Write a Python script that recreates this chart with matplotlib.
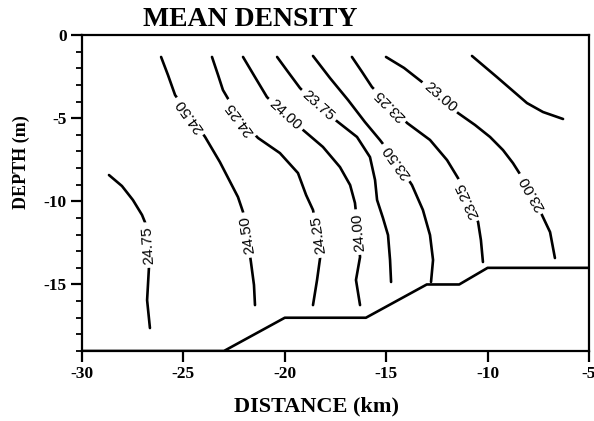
import numpy as np
import matplotlib.pyplot as plt

# isopycnal positions: distance (km), depth (m)
x_2475 = [-28.67, -28.03, -27.49, -27.04, -26.84, -26.75, -26.70, -26.79, -26.65]
z_2475 = [-8.42, -9.08, -9.92, -10.82, -11.42, -12.63, -14.01, -15.94, -17.62]

x_2450 = [-26.10, -25.76, -25.41, -24.67, -23.93, -23.20, -22.31, -22.06, -21.86, -21.67, -21.52, -21.47]
z_2450 = [-1.32, -2.41, -3.61, -4.87, -6.13, -7.64, -9.74, -10.64, -12.03, -13.65, -15.03, -16.24]

x_2425 = [-23.59, -23.29, -23.05, -22.21, -21.32, -20.24, -19.35, -18.95, -18.61, -18.36, -18.26, -18.41, -18.61]
z_2425 = [-1.32, -2.41, -3.31, -5.05, -6.19, -7.10, -8.30, -9.62, -10.52, -12.03, -13.41, -14.73, -16.24]

x_2400 = [-22.06, -21.47, -20.88, -19.99, -19.10, -18.12, -17.28, -16.78, -16.54, -16.39, -16.29, -16.49, -16.29]
z_2400 = [-1.32, -2.53, -3.73, -4.81, -5.71, -6.73, -7.94, -9.02, -10.10, -11.85, -13.35, -14.73, -16.24]

x_2375 = [-20.38, -19.84, -19.25, -18.36, -17.38, -16.44, -15.80, -15.55, -15.45, -15.16, -14.91, -14.81, -14.76]
z_2375 = [-1.32, -2.22, -3.19, -4.27, -5.23, -6.13, -7.34, -8.72, -9.92, -11.00, -12.03, -13.53, -14.85]

x_2350 = [-18.61, -17.77, -16.88, -16.05, -15.31, -14.47, -13.73, -13.19, -12.84, -12.69, -12.79]
z_2350 = [-1.26, -2.59, -3.91, -5.23, -6.31, -7.64, -9.02, -10.52, -12.03, -13.53, -14.85]

x_2325 = [-16.69, -16.19, -15.70, -14.81, -13.97, -12.84, -12.00, -11.46, -10.97, -10.47, -10.33, -10.23]
z_2325 = [-1.32, -2.22, -3.13, -4.21, -5.29, -6.31, -7.52, -8.60, -9.92, -11.24, -12.33, -13.65]

x_2300 = [-15.01, -14.12, -13.23, -12.35, -11.46, -10.62, -9.88, -9.24, -8.75, -7.81, -7.32, -6.92, -6.68]
z_2300 = [-1.32, -1.98, -2.83, -3.73, -4.69, -5.41, -6.13, -6.92, -7.70, -9.50, -10.82, -11.85, -13.41]

x_2275 = [-10.77, -9.54, -8.06, -7.27, -6.28]
z_2275 = [-1.26, -2.53, -4.09, -4.63, -5.05]

levels = ['24.75', '24.50', '24.25', '24.00', '23.75', '23.50', '23.25', '23.00', '22.75']
lines_x = [x_2475, x_2450, x_2425, x_2400, x_2375, x_2350, x_2325, x_2300, x_2275]
lines_z = [z_2475, z_2450, z_2425, z_2400, z_2375, z_2350, z_2325, z_2300, z_2275]

# bottom
bottom_x = [-30, -23, -20, -16, -13, -11.4, -10, -5]
bottom_z = [-19, -19, -17, -17, -15, -15, -14, -14]

# where the labels sit (point index) and whether the text reads upside down
label_at = {
    '24.75': [(5, True)],
    '24.50': [(3, True), (8, True)],
    '24.25': [(3, True), (9, True)],
    '24.00': [(3, False), (9, True)],
    '23.75': [(3, False)],
    '23.50': [(5, True)],
    '23.25': [(3, True), (8, True)],
    '23.00': [(3, False), (9, True)],
}

fig = plt.figure(figsize=(5.94, 4.21), dpi=100)
ax = fig.add_axes([82/594, 70/421, 507/594, 316/421])

for lx, lz in zip(lines_x, lines_z):
    ax.plot(lx, lz, color='black', lw=1.9, solid_joinstyle='round', solid_capstyle='round')

ax.plot(bottom_x, bottom_z, color='black', lw=1.9)

ax.set_xlim(-30, -5)
ax.set_ylim(-19, 0)

for lev, lx, lz in zip(levels, lines_x, lines_z):
    if lev not in label_at:
        continue
    for i, flip in label_at[lev]:
        p0 = ax.transData.transform((lx[i-1], lz[i-1]))
        p1 = ax.transData.transform((lx[i+1], lz[i+1]))
        ang = np.degrees(np.arctan2(p1[1] - p0[1], p1[0] - p0[0]))
        if flip:
            ang += 180
        ax.text(lx[i], lz[i], lev, rotation=ang, rotation_mode='anchor',
                ha='center', va='center', fontsize=11, family='Liberation Sans',
                bbox=dict(boxstyle='square,pad=0.25', fc='white', ec='none'), zorder=5)

for s in ax.spines.values():
    s.set_linewidth(1.6)

ax.set_xticks([-30, -25, -20, -15, -10, -5])
ax.set_xticklabels(['-30', '-25', '-20', '-15', '-10', '-5'])
ax.set_yticks([0, -5, -10, -15])
ax.set_yticklabels(['0', '-5', '-10', '-15'])
ax.set_yticks(np.arange(-19, 1, 1), minor=True)
ax.tick_params(which='major', direction='out', length=8, width=1.6, pad=3)
ax.tick_params(which='minor', direction='out', length=4.5, width=1.3)
for t in ax.get_xticklabels() + ax.get_yticklabels():
    t.set_family('Liberation Serif')
    t.set_fontweight('bold')
    t.set_fontsize(12.5)

fig.text(316/594, 1 - 406/421, 'DISTANCE (km)', family='Liberation Serif', fontweight='bold',
         fontsize=16, ha='center', va='center')
fig.text(21/594, 1 - 162/421, 'DEPTH (m)', family='Liberation Serif', fontweight='bold',
         fontsize=13, ha='center', va='center', rotation=90)
fig.text(143/594, 1 - 19/421, 'MEAN DENSITY', family='Liberation Serif', fontweight='bold',
         fontsize=20, ha='left', va='center')

fig.savefig('out.png', dpi=100)
